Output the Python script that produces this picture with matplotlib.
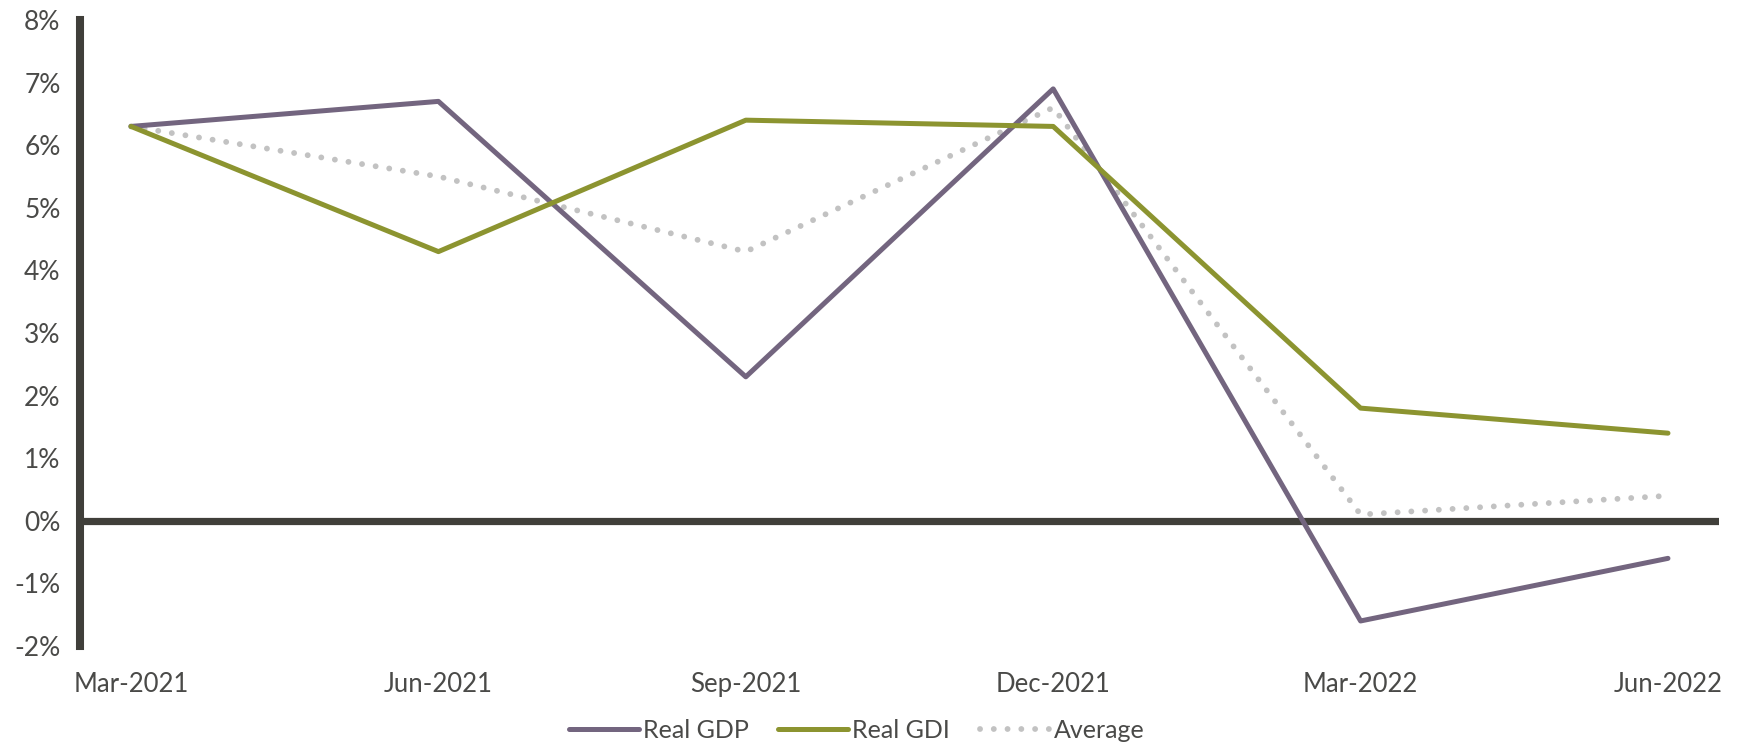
"""
Quarterly real GDP vs real GDI growth, with their average.
"""

import matplotlib
matplotlib.use("Agg")
import matplotlib.pyplot as plt

# data
quarters = ["Mar-2021", "Jun-2021", "Sep-2021", "Dec-2021", "Mar-2022", "Jun-2022"]
real_gdp = [6.3, 6.7, 2.3, 6.9, -1.6, -0.6]
real_gdi = [6.3, 4.3, 6.4, 6.3, 1.8, 1.4]
average = [6.3, 5.5, 4.3, 6.6, 0.1, 0.4]

plt.rcParams['font.family'] = ['Lato', 'DejaVu Sans']

axis_color = '#403f3a'
text_color = '#4a4a48'

fig = plt.figure(figsize=(17.41, 7.44), dpi=100)
ax = fig.add_axes([80 / 1741, 98 / 744, 1639 / 1741, 626 / 744])

x = list(range(len(quarters)))
lw = 3.6
ax.plot(x, real_gdp, color='#73657f', lw=lw, solid_capstyle='round', label='Real GDP', zorder=3)
ax.plot(x, real_gdi, color='#8c9430', lw=lw, solid_capstyle='round', label='Real GDI', zorder=3)
ax.plot(x, average, color='#c2c2c2', lw=4.2, linestyle=(0, (0.01, 2.35)),
        dash_capstyle='round', label='Average', zorder=2)

# zero line
ax.axhline(0, color=axis_color, lw=5.2, zorder=1)

ax.set_ylim(-2, 8)
ax.set_xlim(-0.166, 5.166)
ax.set_yticks(range(-2, 9))
ax.set_yticklabels([f"{v}%" for v in range(-2, 9)])
ax.set_xticks(x)
ax.set_xticklabels(quarters)

for s in ['top', 'right', 'bottom']:
    ax.spines[s].set_visible(False)
ax.spines['left'].set_color(axis_color)
ax.spines['left'].set_linewidth(5.8)

ax.tick_params(axis='y', length=0, pad=14, labelsize=19, labelcolor=text_color)
ax.tick_params(axis='x', length=0, pad=19, labelsize=18.5, labelcolor=text_color)

fig.legend(loc='upper center', bbox_to_anchor=(0.492, 0.047), ncol=3, frameon=False,
           fontsize=18, handlelength=2.8, handletextpad=0.15, columnspacing=1.2,
           labelcolor=text_color, borderaxespad=0)

fig.savefig('out.png', dpi=100)
